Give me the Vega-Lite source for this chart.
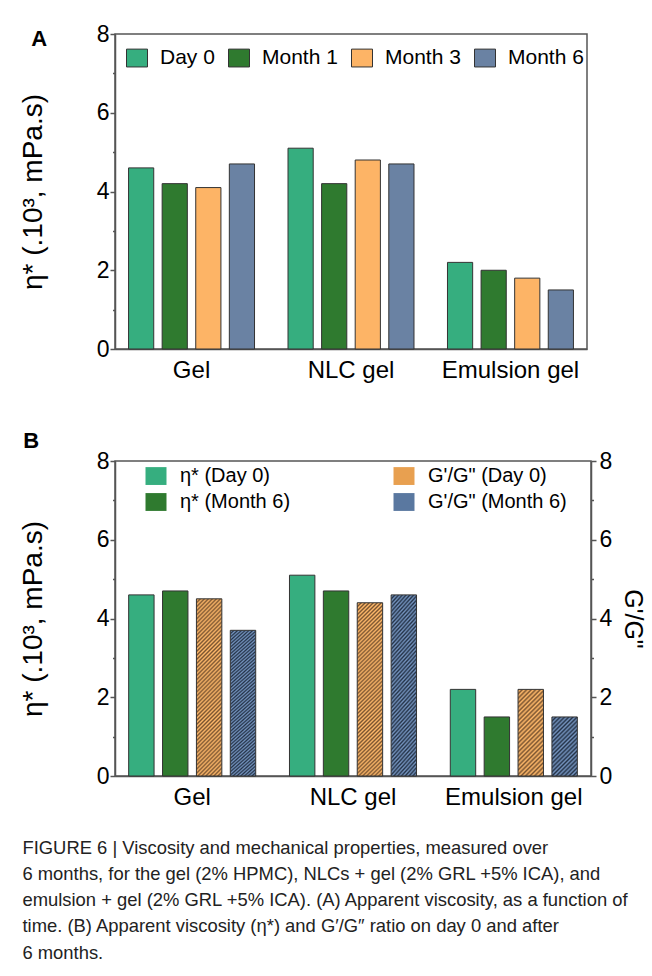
{
"$schema": "https://vega.github.io/schema/vega-lite/v6.json",
"background": "white",
"padding": {"left": 18, "top": 22, "right": 6, "bottom": 5},
"spacing": 46,
"resolve": {"scale": {"x": "independent", "xOffset": "independent", "fill": "independent", "y": "independent"}, "legend": {"fill": "independent"}},
"config": {"font": "Liberation Sans", "view": {"stroke": "#555", "strokeWidth": 1.5}, "axis": {"labelColor": "#000", "titleColor": "#000", "domainColor": "#555", "tickColor": "#555", "domainWidth": 1.5, "tickWidth": 1.5, "grid": false, "titleFontWeight": "normal"}, "legend": {"labelColor": "#000"}},
"title": {"text": ["FIGURE 6 | Viscosity and mechanical properties, measured over", "6 months, for the gel (2% HPMC), NLCs + gel (2% GRL +5% ICA), and", "emulsion + gel (2% GRL +5% ICA). (A) Apparent viscosity, as a function of", "time. (B) Apparent viscosity (η*) and G′/G″ ratio on day 0 and after", "6 months."], "orient": "bottom", "anchor": "start", "frame": "bounds", "fontSize": 18.4, "fontWeight": "normal", "lineHeight": 26.2, "offset": 29, "dx": 4, "baseline": "top", "color": "#222"},
"vconcat": [
{
"width": 472, "height": 315,
"title": {"text": "A", "anchor": "start", "frame": "bounds", "orient": "top", "fontSize": 22, "fontWeight": "bold", "baseline": "alphabetic", "offset": -45, "dx": 12, "color": "#000"},
"data": {"values": [
{"group": "Gel", "period": "Day 0", "value": 4.6},
{"group": "Gel", "period": "Month 1", "value": 4.2},
{"group": "Gel", "period": "Month 3", "value": 4.1},
{"group": "Gel", "period": "Month 6", "value": 4.7},
{"group": "NLC gel", "period": "Day 0", "value": 5.1},
{"group": "NLC gel", "period": "Month 1", "value": 4.2},
{"group": "NLC gel", "period": "Month 3", "value": 4.8},
{"group": "NLC gel", "period": "Month 6", "value": 4.7},
{"group": "Emulsion gel", "period": "Day 0", "value": 2.2},
{"group": "Emulsion gel", "period": "Month 1", "value": 2.0},
{"group": "Emulsion gel", "period": "Month 3", "value": 1.8},
{"group": "Emulsion gel", "period": "Month 6", "value": 1.5}
]},
"mark": {"type": "bar", "stroke": "#333", "strokeWidth": 1},
"encoding": {
"x": {"field": "group", "type": "nominal", "scale": {"domain": ["Gel", "NLC gel", "Emulsion gel"], "paddingInner": 0.21, "paddingOuter": 0.085}, "axis": {"title": null, "labelAngle": 0, "ticks": false, "tickSize": 0, "labelPadding": 9, "labelFontSize": 24}},
"xOffset": {"field": "period", "type": "nominal", "scale": {"domain": ["Day 0", "Month 1", "Month 3", "Month 6"], "paddingInner": 0.25, "paddingOuter": 0}},
"y": {"field": "value", "type": "quantitative", "scale": {"domain": [0, 8], "nice": false}, "axis": {"title": "η* (.10³, mPa.s)", "values": [0, 1, 2, 3, 4, 5, 6, 7, 8], "labelExpr": "datum.value % 2 == 0 ? datum.label : ''", "tickSize": {"condition": {"test": "datum.value % 2 == 1", "value": 2.5}, "value": 5}, "labelPadding": 1, "labelFontSize": 23, "titleFontSize": 28, "titlePadding": 49}},
"fill": {"field": "period", "type": "nominal", "scale": {"domain": ["Day 0", "Month 1", "Month 3", "Month 6"], "range": ["#36ae7f", "#2f7a2f", "#fdb466", "#6a82a3"]}, "legend": {"title": null, "orient": "none", "legendX": 11, "legendY": 13, "direction": "horizontal", "symbolType": "M-1,-0.85H1V0.85H-1Z", "symbolSize": 441, "symbolStrokeColor": "#333", "symbolStrokeWidth": 1, "labelFontSize": 21, "labelOffset": 12, "columnPadding": 11, "padding": 0}}
}
},
{
"width": 476, "height": 315,
"title": {"text": "B", "anchor": "start", "frame": "bounds", "orient": "top", "fontSize": 22, "fontWeight": "bold", "baseline": "alphabetic", "offset": -20, "dx": 4, "color": "#000"},
"data": {"values": [
{"group": "Gel", "measure": "eta", "time": "Day 0", "series": "η* (Day 0)", "value": 4.6},
{"group": "Gel", "measure": "eta", "time": "Month 6", "series": "η* (Month 6)", "value": 4.7},
{"group": "Gel", "measure": "ratio", "time": "Day 0", "series": "G'/G\" (Day 0)", "value": 4.5},
{"group": "Gel", "measure": "ratio", "time": "Month 6", "series": "G'/G\" (Month 6)", "value": 3.7},
{"group": "NLC gel", "measure": "eta", "time": "Day 0", "series": "η* (Day 0)", "value": 5.1},
{"group": "NLC gel", "measure": "eta", "time": "Month 6", "series": "η* (Month 6)", "value": 4.7},
{"group": "NLC gel", "measure": "ratio", "time": "Day 0", "series": "G'/G\" (Day 0)", "value": 4.4},
{"group": "NLC gel", "measure": "ratio", "time": "Month 6", "series": "G'/G\" (Month 6)", "value": 4.6},
{"group": "Emulsion gel", "measure": "eta", "time": "Day 0", "series": "η* (Day 0)", "value": 2.2},
{"group": "Emulsion gel", "measure": "eta", "time": "Month 6", "series": "η* (Month 6)", "value": 1.5},
{"group": "Emulsion gel", "measure": "ratio", "time": "Day 0", "series": "G'/G\" (Day 0)", "value": 2.2},
{"group": "Emulsion gel", "measure": "ratio", "time": "Month 6", "series": "G'/G\" (Month 6)", "value": 1.5}
]},
"encoding": {
"x": {"field": "group", "type": "nominal", "scale": {"domain": ["Gel", "NLC gel", "Emulsion gel"], "paddingInner": 0.21, "paddingOuter": 0.085}, "axis": {"title": null, "labelAngle": 0, "ticks": false, "tickSize": 0, "labelPadding": 9, "labelFontSize": 24}},
"xOffset": {"field": "series", "type": "nominal", "scale": {"domain": ["η* (Day 0)", "η* (Month 6)", "G'/G\" (Day 0)", "G'/G\" (Month 6)"], "paddingInner": 0.25, "paddingOuter": 0}}
},
"layer": [
{
"transform": [{"filter": "datum.measure == 'eta'"}],
"mark": {"type": "bar", "stroke": "#333", "strokeWidth": 1},
"encoding": {
"y": {"field": "value", "type": "quantitative", "scale": {"domain": [0, 8], "nice": false}, "axis": {"title": "η* (.10³, mPa.s)", "orient": "left", "values": [0, 1, 2, 3, 4, 5, 6, 7, 8], "labelExpr": "datum.value % 2 == 0 ? datum.label : ''", "tickSize": {"condition": {"test": "datum.value % 2 == 1", "value": 2.5}, "value": 5}, "labelPadding": 1, "labelFontSize": 23, "titleFontSize": 28, "titlePadding": 49}},
"fill": {"field": "series", "type": "nominal", "scale": {"domain": ["η* (Day 0)", "G'/G\" (Day 0)", "η* (Month 6)", "G'/G\" (Month 6)"], "range": ["#36ae7f", "#e8a050", "#2f7a2f", "#5a78a0"]}, "legend": {"title": null, "orient": "none", "legendX": 30, "legendY": 4, "columns": 2, "direction": "horizontal", "symbolType": "M-1,-0.85H1V0.85H-1Z", "symbolSize": 441, "symbolStrokeColor": "#333", "symbolStrokeWidth": 1, "labelFontSize": 20, "labelOffset": 13, "columnPadding": 100, "rowPadding": 4, "padding": 0,
"encode": {"symbols": {"update": {"fill": [
{"test": "indexof(datum.value, 'G') == 0 && indexof(datum.value, 'Day') > 0", "value": {"gradient": "linear", "x1": 0, "y1": 0, "x2": 1.07405, "y2": 0.91292, "stops": [{"offset":0,"color":"#7a5430"},{"offset":0.05,"color":"#ffb96a"},{"offset":0.1,"color":"#7a5430"},{"offset":0.15,"color":"#ffb96a"},{"offset":0.2,"color":"#7a5430"},{"offset":0.25,"color":"#ffb96a"},{"offset":0.3,"color":"#7a5430"},{"offset":0.35,"color":"#ffb96a"},{"offset":0.4,"color":"#7a5430"},{"offset":0.45,"color":"#ffb96a"},{"offset":0.5,"color":"#7a5430"},{"offset":0.55,"color":"#ffb96a"},{"offset":0.6,"color":"#7a5430"},{"offset":0.65,"color":"#ffb96a"},{"offset":0.7,"color":"#7a5430"},{"offset":0.75,"color":"#ffb96a"},{"offset":0.8,"color":"#7a5430"},{"offset":0.85,"color":"#ffb96a"},{"offset":0.9,"color":"#7a5430"},{"offset":0.95,"color":"#ffb96a"},{"offset":1,"color":"#7a5430"}]}},
{"test": "indexof(datum.value, 'G') == 0", "value": {"gradient": "linear", "x1": 0, "y1": 0, "x2": 1.07405, "y2": 0.91292, "stops": [{"offset":0,"color":"#243348"},{"offset":0.05,"color":"#7493be"},{"offset":0.1,"color":"#243348"},{"offset":0.15,"color":"#7493be"},{"offset":0.2,"color":"#243348"},{"offset":0.25,"color":"#7493be"},{"offset":0.3,"color":"#243348"},{"offset":0.35,"color":"#7493be"},{"offset":0.4,"color":"#243348"},{"offset":0.45,"color":"#7493be"},{"offset":0.5,"color":"#243348"},{"offset":0.55,"color":"#7493be"},{"offset":0.6,"color":"#243348"},{"offset":0.65,"color":"#7493be"},{"offset":0.7,"color":"#243348"},{"offset":0.75,"color":"#7493be"},{"offset":0.8,"color":"#243348"},{"offset":0.85,"color":"#7493be"},{"offset":0.9,"color":"#243348"},{"offset":0.95,"color":"#7493be"},{"offset":1,"color":"#243348"}]}},
{"test": "indexof(datum.value, 'Day') > 0", "value": "#36ae7f"},
{"value": "#2f7a2f"}
]}}}}}
}
},
{
"transform": [{"filter": "datum.measure == 'ratio'"}],
"mark": {"type": "bar", "stroke": "#333", "strokeWidth": 1},
"encoding": {
"y": {"field": "value", "type": "quantitative", "scale": {"domain": [0, 8], "nice": false}, "axis": {"title": "G'/G\"", "orient": "right", "values": [0, 1, 2, 3, 4, 5, 6, 7, 8], "labelExpr": "datum.value % 2 == 0 ? datum.label : ''", "tickSize": {"condition": {"test": "datum.value % 2 == 1", "value": 2.5}, "value": 5}, "labelPadding": 3, "labelFontSize": 23, "titleFontSize": 25, "titlePadding": 8}},
"fill": {"condition": [
{"test": "datum.time == 'Day 0' && datum.value > 3", "value": {"gradient": "linear", "x1": 0, "y1": 0, "x2": 0.1627, "y2": 1.1215, "stops": [{"offset":0,"color":"#7a5430"},{"offset":0.01,"color":"#ffb96a"},{"offset":0.02,"color":"#7a5430"},{"offset":0.03,"color":"#ffb96a"},{"offset":0.04,"color":"#7a5430"},{"offset":0.05,"color":"#ffb96a"},{"offset":0.06,"color":"#7a5430"},{"offset":0.07,"color":"#ffb96a"},{"offset":0.08,"color":"#7a5430"},{"offset":0.09,"color":"#ffb96a"},{"offset":0.1,"color":"#7a5430"},{"offset":0.11,"color":"#ffb96a"},{"offset":0.12,"color":"#7a5430"},{"offset":0.13,"color":"#ffb96a"},{"offset":0.14,"color":"#7a5430"},{"offset":0.15,"color":"#ffb96a"},{"offset":0.16,"color":"#7a5430"},{"offset":0.17,"color":"#ffb96a"},{"offset":0.18,"color":"#7a5430"},{"offset":0.19,"color":"#ffb96a"},{"offset":0.2,"color":"#7a5430"},{"offset":0.21,"color":"#ffb96a"},{"offset":0.22,"color":"#7a5430"},{"offset":0.23,"color":"#ffb96a"},{"offset":0.24,"color":"#7a5430"},{"offset":0.25,"color":"#ffb96a"},{"offset":0.26,"color":"#7a5430"},{"offset":0.27,"color":"#ffb96a"},{"offset":0.28,"color":"#7a5430"},{"offset":0.29,"color":"#ffb96a"},{"offset":0.3,"color":"#7a5430"},{"offset":0.31,"color":"#ffb96a"},{"offset":0.32,"color":"#7a5430"},{"offset":0.33,"color":"#ffb96a"},{"offset":0.34,"color":"#7a5430"},{"offset":0.35,"color":"#ffb96a"},{"offset":0.36,"color":"#7a5430"},{"offset":0.37,"color":"#ffb96a"},{"offset":0.38,"color":"#7a5430"},{"offset":0.39,"color":"#ffb96a"},{"offset":0.4,"color":"#7a5430"},{"offset":0.41,"color":"#ffb96a"},{"offset":0.42,"color":"#7a5430"},{"offset":0.43,"color":"#ffb96a"},{"offset":0.44,"color":"#7a5430"},{"offset":0.45,"color":"#ffb96a"},{"offset":0.46,"color":"#7a5430"},{"offset":0.47,"color":"#ffb96a"},{"offset":0.48,"color":"#7a5430"},{"offset":0.49,"color":"#ffb96a"},{"offset":0.5,"color":"#7a5430"},{"offset":0.51,"color":"#ffb96a"},{"offset":0.52,"color":"#7a5430"},{"offset":0.53,"color":"#ffb96a"},{"offset":0.54,"color":"#7a5430"},{"offset":0.55,"color":"#ffb96a"},{"offset":0.56,"color":"#7a5430"},{"offset":0.57,"color":"#ffb96a"},{"offset":0.58,"color":"#7a5430"},{"offset":0.59,"color":"#ffb96a"},{"offset":0.6,"color":"#7a5430"},{"offset":0.61,"color":"#ffb96a"},{"offset":0.62,"color":"#7a5430"},{"offset":0.63,"color":"#ffb96a"},{"offset":0.64,"color":"#7a5430"},{"offset":0.65,"color":"#ffb96a"},{"offset":0.66,"color":"#7a5430"},{"offset":0.67,"color":"#ffb96a"},{"offset":0.68,"color":"#7a5430"},{"offset":0.69,"color":"#ffb96a"},{"offset":0.7,"color":"#7a5430"},{"offset":0.71,"color":"#ffb96a"},{"offset":0.72,"color":"#7a5430"},{"offset":0.73,"color":"#ffb96a"},{"offset":0.74,"color":"#7a5430"},{"offset":0.75,"color":"#ffb96a"},{"offset":0.76,"color":"#7a5430"},{"offset":0.77,"color":"#ffb96a"},{"offset":0.78,"color":"#7a5430"},{"offset":0.79,"color":"#ffb96a"},{"offset":0.8,"color":"#7a5430"},{"offset":0.81,"color":"#ffb96a"},{"offset":0.82,"color":"#7a5430"},{"offset":0.83,"color":"#ffb96a"},{"offset":0.84,"color":"#7a5430"},{"offset":0.85,"color":"#ffb96a"},{"offset":0.86,"color":"#7a5430"},{"offset":0.87,"color":"#ffb96a"},{"offset":0.88,"color":"#7a5430"},{"offset":0.89,"color":"#ffb96a"},{"offset":0.9,"color":"#7a5430"},{"offset":0.91,"color":"#ffb96a"},{"offset":0.92,"color":"#7a5430"},{"offset":0.93,"color":"#ffb96a"},{"offset":0.94,"color":"#7a5430"},{"offset":0.95,"color":"#ffb96a"},{"offset":0.96,"color":"#7a5430"},{"offset":0.97,"color":"#ffb96a"},{"offset":0.98,"color":"#7a5430"},{"offset":0.99,"color":"#ffb96a"},{"offset":1,"color":"#7a5430"}]}},
{"test": "datum.time == 'Day 0'", "value": {"gradient": "linear", "x1": 0, "y1": 0, "x2": 0.34927, "y2": 1.19085, "stops": [{"offset":0,"color":"#7a5430"},{"offset":0.02,"color":"#ffb96a"},{"offset":0.04,"color":"#7a5430"},{"offset":0.06,"color":"#ffb96a"},{"offset":0.08,"color":"#7a5430"},{"offset":0.1,"color":"#ffb96a"},{"offset":0.12,"color":"#7a5430"},{"offset":0.14,"color":"#ffb96a"},{"offset":0.16,"color":"#7a5430"},{"offset":0.18,"color":"#ffb96a"},{"offset":0.2,"color":"#7a5430"},{"offset":0.22,"color":"#ffb96a"},{"offset":0.24,"color":"#7a5430"},{"offset":0.26,"color":"#ffb96a"},{"offset":0.28,"color":"#7a5430"},{"offset":0.3,"color":"#ffb96a"},{"offset":0.32,"color":"#7a5430"},{"offset":0.34,"color":"#ffb96a"},{"offset":0.36,"color":"#7a5430"},{"offset":0.38,"color":"#ffb96a"},{"offset":0.4,"color":"#7a5430"},{"offset":0.42,"color":"#ffb96a"},{"offset":0.44,"color":"#7a5430"},{"offset":0.46,"color":"#ffb96a"},{"offset":0.48,"color":"#7a5430"},{"offset":0.5,"color":"#ffb96a"},{"offset":0.52,"color":"#7a5430"},{"offset":0.54,"color":"#ffb96a"},{"offset":0.56,"color":"#7a5430"},{"offset":0.58,"color":"#ffb96a"},{"offset":0.6,"color":"#7a5430"},{"offset":0.62,"color":"#ffb96a"},{"offset":0.64,"color":"#7a5430"},{"offset":0.66,"color":"#ffb96a"},{"offset":0.68,"color":"#7a5430"},{"offset":0.7,"color":"#ffb96a"},{"offset":0.72,"color":"#7a5430"},{"offset":0.74,"color":"#ffb96a"},{"offset":0.76,"color":"#7a5430"},{"offset":0.78,"color":"#ffb96a"},{"offset":0.8,"color":"#7a5430"},{"offset":0.82,"color":"#ffb96a"},{"offset":0.84,"color":"#7a5430"},{"offset":0.86,"color":"#ffb96a"},{"offset":0.88,"color":"#7a5430"},{"offset":0.9,"color":"#ffb96a"},{"offset":0.92,"color":"#7a5430"},{"offset":0.94,"color":"#ffb96a"},{"offset":0.96,"color":"#7a5430"},{"offset":0.98,"color":"#ffb96a"},{"offset":1,"color":"#7a5430"}]}},
{"test": "datum.value > 3", "value": {"gradient": "linear", "x1": 0, "y1": 0, "x2": 0.17584, "y2": 1.12843, "stops": [{"offset":0,"color":"#243348"},{"offset":0.01,"color":"#7493be"},{"offset":0.02,"color":"#243348"},{"offset":0.03,"color":"#7493be"},{"offset":0.04,"color":"#243348"},{"offset":0.05,"color":"#7493be"},{"offset":0.06,"color":"#243348"},{"offset":0.07,"color":"#7493be"},{"offset":0.08,"color":"#243348"},{"offset":0.09,"color":"#7493be"},{"offset":0.1,"color":"#243348"},{"offset":0.11,"color":"#7493be"},{"offset":0.12,"color":"#243348"},{"offset":0.13,"color":"#7493be"},{"offset":0.14,"color":"#243348"},{"offset":0.15,"color":"#7493be"},{"offset":0.16,"color":"#243348"},{"offset":0.17,"color":"#7493be"},{"offset":0.18,"color":"#243348"},{"offset":0.19,"color":"#7493be"},{"offset":0.2,"color":"#243348"},{"offset":0.21,"color":"#7493be"},{"offset":0.22,"color":"#243348"},{"offset":0.23,"color":"#7493be"},{"offset":0.24,"color":"#243348"},{"offset":0.25,"color":"#7493be"},{"offset":0.26,"color":"#243348"},{"offset":0.27,"color":"#7493be"},{"offset":0.28,"color":"#243348"},{"offset":0.29,"color":"#7493be"},{"offset":0.3,"color":"#243348"},{"offset":0.31,"color":"#7493be"},{"offset":0.32,"color":"#243348"},{"offset":0.33,"color":"#7493be"},{"offset":0.34,"color":"#243348"},{"offset":0.35,"color":"#7493be"},{"offset":0.36,"color":"#243348"},{"offset":0.37,"color":"#7493be"},{"offset":0.38,"color":"#243348"},{"offset":0.39,"color":"#7493be"},{"offset":0.4,"color":"#243348"},{"offset":0.41,"color":"#7493be"},{"offset":0.42,"color":"#243348"},{"offset":0.43,"color":"#7493be"},{"offset":0.44,"color":"#243348"},{"offset":0.45,"color":"#7493be"},{"offset":0.46,"color":"#243348"},{"offset":0.47,"color":"#7493be"},{"offset":0.48,"color":"#243348"},{"offset":0.49,"color":"#7493be"},{"offset":0.5,"color":"#243348"},{"offset":0.51,"color":"#7493be"},{"offset":0.52,"color":"#243348"},{"offset":0.53,"color":"#7493be"},{"offset":0.54,"color":"#243348"},{"offset":0.55,"color":"#7493be"},{"offset":0.56,"color":"#243348"},{"offset":0.57,"color":"#7493be"},{"offset":0.58,"color":"#243348"},{"offset":0.59,"color":"#7493be"},{"offset":0.6,"color":"#243348"},{"offset":0.61,"color":"#7493be"},{"offset":0.62,"color":"#243348"},{"offset":0.63,"color":"#7493be"},{"offset":0.64,"color":"#243348"},{"offset":0.65,"color":"#7493be"},{"offset":0.66,"color":"#243348"},{"offset":0.67,"color":"#7493be"},{"offset":0.68,"color":"#243348"},{"offset":0.69,"color":"#7493be"},{"offset":0.7,"color":"#243348"},{"offset":0.71,"color":"#7493be"},{"offset":0.72,"color":"#243348"},{"offset":0.73,"color":"#7493be"},{"offset":0.74,"color":"#243348"},{"offset":0.75,"color":"#7493be"},{"offset":0.76,"color":"#243348"},{"offset":0.77,"color":"#7493be"},{"offset":0.78,"color":"#243348"},{"offset":0.79,"color":"#7493be"},{"offset":0.8,"color":"#243348"},{"offset":0.81,"color":"#7493be"},{"offset":0.82,"color":"#243348"},{"offset":0.83,"color":"#7493be"},{"offset":0.84,"color":"#243348"},{"offset":0.85,"color":"#7493be"},{"offset":0.86,"color":"#243348"},{"offset":0.87,"color":"#7493be"},{"offset":0.88,"color":"#243348"},{"offset":0.89,"color":"#7493be"},{"offset":0.9,"color":"#243348"},{"offset":0.91,"color":"#7493be"},{"offset":0.92,"color":"#243348"},{"offset":0.93,"color":"#7493be"},{"offset":0.94,"color":"#243348"},{"offset":0.95,"color":"#7493be"},{"offset":0.96,"color":"#243348"},{"offset":0.97,"color":"#7493be"},{"offset":0.98,"color":"#243348"},{"offset":0.99,"color":"#7493be"},{"offset":1,"color":"#243348"}]}},
{"test": "datum.value <= 3", "value": {"gradient": "linear", "x1": 0, "y1": 0, "x2": 0.51868, "y2": 1.20686, "stops": [{"offset":0,"color":"#243348"},{"offset":0.025,"color":"#7493be"},{"offset":0.05,"color":"#243348"},{"offset":0.075,"color":"#7493be"},{"offset":0.1,"color":"#243348"},{"offset":0.125,"color":"#7493be"},{"offset":0.15,"color":"#243348"},{"offset":0.175,"color":"#7493be"},{"offset":0.2,"color":"#243348"},{"offset":0.225,"color":"#7493be"},{"offset":0.25,"color":"#243348"},{"offset":0.275,"color":"#7493be"},{"offset":0.3,"color":"#243348"},{"offset":0.325,"color":"#7493be"},{"offset":0.35,"color":"#243348"},{"offset":0.375,"color":"#7493be"},{"offset":0.4,"color":"#243348"},{"offset":0.425,"color":"#7493be"},{"offset":0.45,"color":"#243348"},{"offset":0.475,"color":"#7493be"},{"offset":0.5,"color":"#243348"},{"offset":0.525,"color":"#7493be"},{"offset":0.55,"color":"#243348"},{"offset":0.575,"color":"#7493be"},{"offset":0.6,"color":"#243348"},{"offset":0.625,"color":"#7493be"},{"offset":0.65,"color":"#243348"},{"offset":0.675,"color":"#7493be"},{"offset":0.7,"color":"#243348"},{"offset":0.725,"color":"#7493be"},{"offset":0.75,"color":"#243348"},{"offset":0.775,"color":"#7493be"},{"offset":0.8,"color":"#243348"},{"offset":0.825,"color":"#7493be"},{"offset":0.85,"color":"#243348"},{"offset":0.875,"color":"#7493be"},{"offset":0.9,"color":"#243348"},{"offset":0.925,"color":"#7493be"},{"offset":0.95,"color":"#243348"},{"offset":0.975,"color":"#7493be"},{"offset":1,"color":"#243348"}]}}
], "field": "series", "type": "nominal", "scale": {"domain": ["η* (Day 0)", "G'/G\" (Day 0)", "η* (Month 6)", "G'/G\" (Month 6)"], "range": ["#36ae7f", "#e8a050", "#2f7a2f", "#5a78a0"]}}
}
}
],
"resolve": {"scale": {"y": "independent"}}
}
]
}
